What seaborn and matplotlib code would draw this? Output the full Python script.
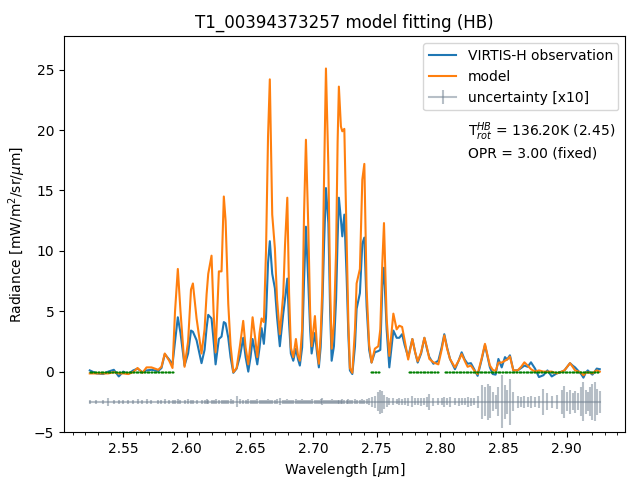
import numpy as np
import matplotlib
matplotlib.use('Agg')
import matplotlib.pyplot as plt
import seaborn as sns
from matplotlib.ticker import MultipleLocator

# spectrum (wavelength in micron, radiance in mW/m2/sr/um)
wavelength = [
    2.5236, 2.5289, 2.5342, 2.5382, 2.5426, 2.5465, 2.5500, 2.5539, 2.5579, 2.5613,
    2.5652, 2.5684, 2.5723, 2.5776, 2.5802, 2.5828, 2.5863, 2.5889, 2.5909, 2.5931,
    2.5952, 2.5984, 2.6012, 2.6035, 2.6050, 2.6079, 2.6118, 2.6142, 2.6158, 2.6171,
    2.6197, 2.6213, 2.6229, 2.6255, 2.6276, 2.6294, 2.6308, 2.6329, 2.6347, 2.6369,
    2.6395, 2.6422, 2.6447, 2.6466, 2.6487, 2.6505, 2.6521, 2.6541, 2.6558, 2.6576,
    2.6592, 2.6610, 2.6627, 2.6643, 2.6657, 2.6676, 2.6697, 2.6714, 2.6736, 2.6763,
    2.6777, 2.6795, 2.6809, 2.6823, 2.6842, 2.6863, 2.6880, 2.6894, 2.6912, 2.6927,
    2.6942, 2.6961, 2.6975, 2.6987, 2.7013, 2.7030, 2.7044, 2.7058, 2.7071, 2.7085,
    2.7100, 2.7119, 2.7133, 2.7145, 2.7163, 2.7180, 2.7192, 2.7202, 2.7218, 2.7229,
    2.7245, 2.7263, 2.7277, 2.7289, 2.7308, 2.7329, 2.7342, 2.7368, 2.7387, 2.7403,
    2.7421, 2.7441, 2.7460, 2.7486, 2.7513, 2.7529, 2.7545, 2.7558, 2.7579, 2.7600,
    2.7632, 2.7658, 2.7679, 2.7701, 2.7721, 2.7749, 2.7782, 2.7804, 2.7824, 2.7851,
    2.7877, 2.7899, 2.7916, 2.7948, 2.7987, 2.8013, 2.8034, 2.8056, 2.8079, 2.8118,
    2.8147, 2.8171, 2.8195, 2.8218, 2.8244, 2.8270, 2.8297, 2.8329, 2.8355, 2.8376,
    2.8394, 2.8416, 2.8439, 2.8461, 2.8487, 2.8513, 2.8530, 2.8552, 2.8579, 2.8613,
    2.8641, 2.8666, 2.8692, 2.8718, 2.8750, 2.8781, 2.8816, 2.8848, 2.8882, 2.8921,
    2.8961, 2.8982, 2.9004, 2.9026, 2.9047, 2.9066, 2.9092, 2.9114, 2.9132, 2.9150,
    2.9166, 2.9186, 2.9203, 2.9221, 2.9237, 2.9261,
]

observation = [
    0.1, -0.15, -0.2, 0.0, 0.15, -0.4, 0.0, -0.2, 0.1, 0.25,
    -0.05, 0.1, 0.15, 0.05, 0.3, 1.45, 1.0, 0.6, 2.5, 4.5,
    3.2, 0.5, 1.5, 3.4, 3.3, 2.6, 0.7, 1.8, 3.6, 4.7,
    4.4, 2.6, 0.6, 2.7, 2.9, 4.1, 4.0, 2.8, 1.2, -0.1,
    0.25, 1.3, 2.8, 1.2, 0.0, 1.2, 2.7, 1.6, 0.6, 2.0,
    3.6, 2.3, 4.5, 9.0, 10.8, 8.1, 6.9, 4.5, 2.1, 4.8,
    6.0, 7.7, 4.0, 1.5, 0.9, 1.9, 1.0, 0.5, 2.0, 7.5,
    12.0, 7.3, 3.5, 1.5, 3.2, 1.5, 0.35, 2.0, 5.2, 10.5,
    15.2, 12.3, 5.0, 0.9, 2.1, 6.0, 11.0, 14.4, 12.6, 11.2,
    13.0, 7.9, 3.0, 0.1, -0.2, 2.1, 5.2, 6.5, 10.6, 11.1,
    5.4, 1.8, 0.75, 1.6, 1.7, 1.8, 7.1, 8.6, 3.5, 0.35,
    3.4, 2.8, 2.8, 3.1, 2.2, 1.2, 2.7, 1.6, 0.75, 1.5,
    2.8, 1.8, 1.2, 0.65, 0.9, 2.0, 3.1, 2.0, 1.05, 0.2,
    0.9, 1.6, 1.0, 0.65, 0.7, 0.2, -0.35, 1.0, 2.2, 1.2,
    0.35, -0.2, -0.25, 1.05, 0.35, 1.2, 1.0, 1.35, 0.1, 0.1,
    0.3, 0.5, 0.4, 0.77, 0.25, -0.45, -0.3, 0.1, -0.4, -0.15,
    0.0, 0.1, 0.4, 0.7, 0.5, 0.35, 0.05, -0.2, -0.5, -0.1,
    0.1, -0.1, -0.25, 0.0, 0.25, 0.2,
]

model = [
    -0.15, -0.15, -0.15, -0.15, -0.05, -0.15, -0.15, -0.2, -0.05, 0.3,
    -0.1, 0.35, 0.35, 0.15, 0.4, 1.5, 0.9, 0.3, 5.0, 8.5,
    5.0, 0.4, 2.5, 6.8, 7.3, 4.4, 1.5, 3.5, 6.4, 8.1,
    9.6, 5.0, 1.6, 8.3, 8.3, 14.5, 12.5, 5.6, 2.2, -0.05,
    0.3, 2.2, 4.2, 2.0, 0.6, 2.4, 4.5, 2.8, 1.2, 3.2,
    4.4, 4.1, 10.0, 19.5, 24.2, 13.0, 10.2, 6.0, 3.1, 6.4,
    10.5, 14.4, 6.5, 2.0, 1.2, 2.7, 1.3, 0.9, 3.5, 13.0,
    19.2, 11.8, 5.0, 2.1, 4.6, 2.0, 0.65, 3.0, 6.8, 16.0,
    25.1, 17.0, 7.0, 1.9, 4.0, 10.0, 19.0, 23.6, 20.3, 19.9,
    20.1, 11.0, 4.0, 0.3, -0.1, 3.5, 7.3, 8.5, 15.9, 17.2,
    6.8, 2.2, 0.75, 1.9, 2.1, 3.5, 9.0, 12.3, 4.4, 1.3,
    4.8, 3.5, 3.8, 3.7, 2.6, 1.0, 2.7, 1.6, 0.85, 1.6,
    2.8, 1.9, 1.05, 0.77, 0.6, 1.8, 3.0, 1.9, 1.05, 0.35,
    0.9, 1.45, 0.9, 0.4, 0.5, 0.1, -0.2, 1.1, 2.3, 1.3,
    0.5, 0.15, 0.05, 0.75, 0.75, 0.9, 1.0, 1.25, 0.1, 0.1,
    0.4, 0.77, 0.5, 0.2, 0.0, 0.1, 0.0, 0.0, 0.0, -0.15,
    0.0, 0.1, 0.4, 0.7, 0.4, 0.1, 0.0, -0.1, -0.3, -0.1,
    -0.05, -0.1, -0.15, 0.0, 0.1, 0.0,
]

uncertainty = [
    0.015, 0.015, 0.015, 0.035, 0.015, 0.015, 0.015, 0.015, 0.015, 0.02,
    0.015, 0.02, 0.015, 0.015, 0.015, 0.02, 0.015, 0.015, 0.015, 0.02,
    0.015, 0.015, 0.02, 0.015, 0.015, 0.015, 0.015, 0.015, 0.02, 0.015,
    0.015, 0.015, 0.02, 0.015, 0.015, 0.015, 0.015, 0.015, 0.02, 0.015,
    0.045, 0.02, 0.015, 0.015, 0.02, 0.015, 0.015, 0.015, 0.02, 0.015,
    0.015, 0.015, 0.015, 0.02, 0.015, 0.015, 0.015, 0.02, 0.03, 0.015,
    0.015, 0.02, 0.015, 0.015, 0.015, 0.02, 0.015, 0.015, 0.02, 0.015,
    0.015, 0.015, 0.015, 0.02, 0.015, 0.015, 0.015, 0.02, 0.03, 0.015,
    0.015, 0.015, 0.015, 0.02, 0.015, 0.015, 0.015, 0.015, 0.015, 0.02,
    0.015, 0.015, 0.02, 0.015, 0.015, 0.02, 0.015, 0.015, 0.02, 0.015,
    0.02, 0.03, 0.04, 0.05, 0.08, 0.10, 0.09, 0.06, 0.04, 0.03,
    0.03, 0.02, 0.03, 0.025, 0.03, 0.035, 0.045, 0.03, 0.03, 0.035,
    0.03, 0.04, 0.065, 0.035, 0.03, 0.03, 0.04, 0.03, 0.04, 0.03,
    0.035, 0.03, 0.03, 0.04, 0.035, 0.03, 0.05, 0.14, 0.12, 0.15,
    0.13, 0.08, 0.06, 0.12, 0.22, 0.14, 0.10, 0.19, 0.08, 0.05,
    0.04, 0.05, 0.04, 0.05, 0.04, 0.05, 0.11, 0.07, 0.05, 0.06,
    0.10, 0.13, 0.08, 0.10, 0.07, 0.09, 0.07, 0.12, 0.16, 0.10,
    0.08, 0.12, 0.15, 0.16, 0.11, 0.09,
]

# channels used for the continuum (drawn at zero)
mask_ranges = [(2.5234, 2.5897), (2.7453, 2.7524), (2.7753, 2.7990), (2.8037, 2.9253)]
channel_step = 0.0011

unc_offset = -2.5
unc_scale = 10

title = 'T1_00394373257 model fitting (HB)'
fit_text = 'T$_{rot}^{HB}$ = 136.20K (2.45)\nOPR = 3.00 (fixed)'

wl = np.array(wavelength)
mask_wl = np.concatenate([np.arange(a, b + 1e-9, channel_step) for a, b in mask_ranges])

fig, ax = plt.subplots(figsize=(6.4, 4.8), dpi=100)

ax.errorbar(wl, np.full(len(wl), unc_offset), yerr=unc_scale * np.array(uncertainty),
            color='slategray', alpha=0.5, label='uncertainty [x10]')
sns.lineplot(x=wl, y=observation, ax=ax, color='C0', label='VIRTIS-H observation',
             estimator=None, sort=False)
sns.lineplot(x=wl, y=model, ax=ax, color='C1', label='model', estimator=None, sort=False)
ax.plot(mask_wl, np.zeros(len(mask_wl)), '.', color='green', markersize=3, markeredgewidth=0)

handles, labels = ax.get_legend_handles_labels()
order = [labels.index('VIRTIS-H observation'), labels.index('model'), labels.index('uncertainty [x10]')]
ax.legend([handles[i] for i in order], [labels[i] for i in order], loc='upper right')

ax.text(0.72, 0.787, fit_text, transform=ax.transAxes, va='top', ha='left', linespacing=1.3)

ax.set_ylim(-5, 27.75)
ax.xaxis.set_minor_locator(MultipleLocator(0.01))
ax.set_xlabel(r'Wavelength [$\mu$m]')
ax.set_ylabel(r'Radiance [mW/m$^2$/sr/$\mu$m]')
ax.set_title(title)

fig.subplots_adjust(left=0.1, right=0.977, top=0.924, bottom=0.1)
fig.savefig('out.png', dpi=100)
